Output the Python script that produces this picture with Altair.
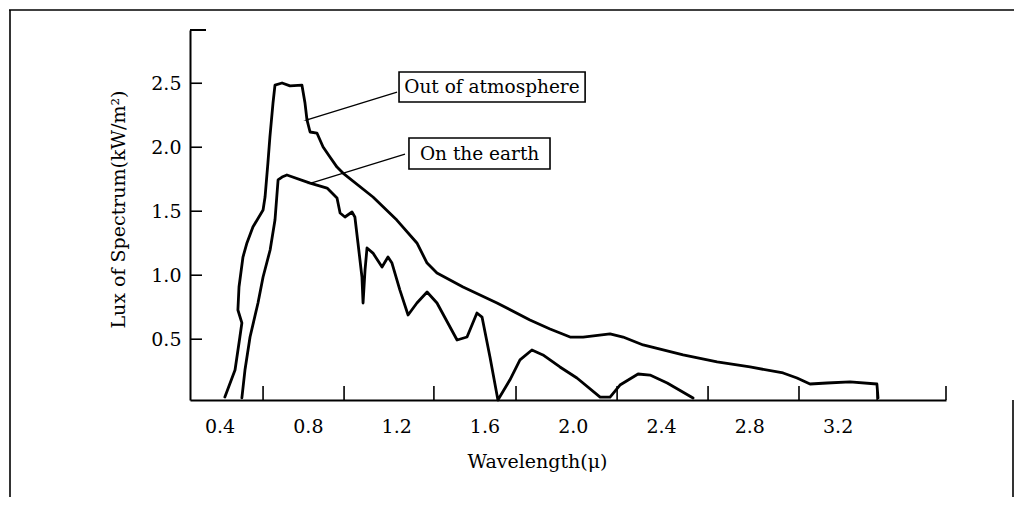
import altair as alt
import pandas as pd

FONT = "DejaVu Serif"

# ---- data (wavelength in micron, flux in kW/m^2) ----
out_w = [0.424, 0.470, 0.492, 0.501, 0.483, 0.488, 0.506, 0.524, 0.551, 0.597,
         0.606, 0.619, 0.628, 0.642, 0.651, 0.683, 0.719, 0.773, 0.787, 0.796,
         0.810, 0.841, 0.869, 0.900, 0.932, 0.959, 1.095, 1.203, 1.294, 1.340,
         1.385, 1.503, 1.657, 1.806, 1.897, 1.988, 2.047, 2.169, 2.228, 2.319,
         2.500, 2.654, 2.803, 2.953, 3.016, 3.075, 3.152, 3.256, 3.378, 3.383]
out_v = [0.048, 0.259, 0.517, 0.627, 0.728, 0.908, 1.142, 1.252, 1.377, 1.509,
         1.611, 1.877, 2.080, 2.345, 2.486, 2.502, 2.479, 2.486, 2.345, 2.213,
         2.119, 2.111, 2.002, 1.923, 1.845, 1.798, 1.611, 1.431, 1.252, 1.095,
         1.017, 0.908, 0.783, 0.650, 0.580, 0.517, 0.517, 0.541, 0.517, 0.455,
         0.377, 0.322, 0.283, 0.236, 0.197, 0.150, 0.158, 0.166, 0.150, 0.041]

earth_w = [0.501, 0.515, 0.538, 0.574, 0.597, 0.629, 0.651, 0.665, 0.683, 0.705,
           0.810, 0.887, 0.932, 0.946, 0.968, 1.000, 1.013, 1.027, 1.045, 1.050,
           1.059, 1.068, 1.095, 1.136, 1.163, 1.181, 1.217, 1.254, 1.294, 1.340,
           1.385, 1.476, 1.521, 1.566, 1.589, 1.625, 1.661, 1.715, 1.761, 1.815,
           1.865, 1.942, 2.019, 2.124, 2.169, 2.214, 2.296, 2.350, 2.428, 2.545]
earth_v = [0.041, 0.259, 0.517, 0.783, 0.986, 1.197, 1.431, 1.744, 1.767, 1.783,
           1.720, 1.681, 1.603, 1.486, 1.455, 1.494, 1.455, 1.252, 0.986, 0.783,
           1.041, 1.213, 1.173, 1.064, 1.142, 1.095, 0.884, 0.689, 0.783, 0.869,
           0.783, 0.494, 0.517, 0.705, 0.673, 0.361, 0.025, 0.181, 0.338, 0.416,
           0.377, 0.283, 0.197, 0.048, 0.048, 0.142, 0.228, 0.220, 0.158, 0.041]

x_labels = [0.4, 0.8, 1.2, 1.6, 2.0, 2.4, 2.8, 3.2]
x_ticks = [0.597, 0.964, 1.371, 1.743, 2.201, 2.613, 3.025, 3.379, 3.691]
y_labels = [0.5, 1.0, 1.5, 2.0, 2.5]
x_domain = [0.266, 3.691]
y_domain = [0.025, 2.916]

ann_text = ["Out of atmosphere", "On the earth"]
ann_box_w1 = [1.213, 1.258]
ann_box_w2 = [2.056, 1.897]
ann_box_v1 = [2.353, 1.830]
ann_box_v2 = [2.588, 2.072]
ann_text_w = [1.634, 1.578]
ann_text_v = [2.470, 1.951]
lead_w1 = [1.204, 1.240]
lead_v1 = [2.431, 1.947]
lead_w2 = [0.796, 0.814]
lead_v2 = [2.213, 1.720]

W, H = 756, 370

xs = alt.Scale(domain=x_domain, nice=False, zero=False)
ys = alt.Scale(domain=y_domain, nice=False, zero=False)

rows = []
for i, (w, v) in enumerate(zip(out_w, out_v)):
    rows.append({"series": "Out of atmosphere", "w": w, "v": v, "i": i})
for i, (w, v) in enumerate(zip(earth_w, earth_v)):
    rows.append({"series": "On the earth", "w": w, "v": v, "i": i})
curves = pd.DataFrame(rows)

x_axis = alt.Axis(values=x_labels, format=".1f", ticks=False, tickSize=0, grid=False,
                  labelFont=FONT, labelFontSize=19, labelColor="black", labelPadding=17,
                  labelFlush=False, labelOverlap=False,
                  domainColor="black", domainWidth=2,
                  title="Wavelength(μ)", titleFont=FONT, titleFontSize=19,
                  titleFontWeight="normal", titleColor="black",
                  titleX=347, titleY=52, titleBaseline="top", titleAlign="center")
y_axis = alt.Axis(values=y_labels, format=".1f", ticks=False, tickSize=0, grid=False,
                  labelFont=FONT, labelFontSize=19, labelColor="black", labelPadding=9,
                  labelOverlap=False,
                  domainColor="black", domainWidth=2,
                  title="Lux of Spectrum(kW/m²)", titleFont=FONT, titleFontSize=19,
                  titleFontWeight="normal", titleColor="black",
                  titleX=-66, titleY=179, titleAngle=270, titleBaseline="alphabetic",
                  titleAlign="center")

lines = alt.Chart(curves).mark_line(color="black", strokeWidth=2.8,
                                    strokeJoin="round", strokeCap="round").encode(
    x=alt.X("w:Q", scale=xs, axis=x_axis),
    y=alt.Y("v:Q", scale=ys, axis=y_axis),
    detail="series:N",
    order="i:Q",
)

xt = alt.Chart(pd.DataFrame({"w": x_ticks})).mark_rule(color="black", strokeWidth=1.6).encode(
    x=alt.X("w:Q", scale=xs),
    y=alt.value(H),
    y2=alt.value(H - 14),
)

yt = alt.Chart(pd.DataFrame({"v": y_labels})).mark_rule(color="black", strokeWidth=1.6).encode(
    y=alt.Y("v:Q", scale=ys),
    x=alt.value(0),
    x2=alt.value(12),
)

ytop = alt.Chart(pd.DataFrame({"v": [y_domain[1]]})).mark_rule(color="black", strokeWidth=2).encode(
    y=alt.Y("v:Q", scale=ys),
    x=alt.value(0),
    x2=alt.value(16),
)

ann = pd.DataFrame({
    "text": ann_text,
    "w": ann_box_w1, "w2": ann_box_w2, "v": ann_box_v1, "v2": ann_box_v2,
    "tw": ann_text_w, "tv": ann_text_v,
    "lw1": lead_w1, "lv1": lead_v1, "lw2": lead_w2, "lv2": lead_v2,
})

leaders = alt.Chart(ann).mark_rule(color="black", strokeWidth=1.3).encode(
    x=alt.X("lw1:Q", scale=xs), x2="lw2:Q",
    y=alt.Y("lv1:Q", scale=ys), y2="lv2:Q",
)

heads = alt.Chart(ann).mark_point(shape="wedge", filled=True, color="black",
                                  size=45, angle=253, opacity=1).encode(
    x=alt.X("lw2:Q", scale=xs),
    y=alt.Y("lv2:Q", scale=ys),
)

boxes = alt.Chart(ann).mark_rect(fill="white", stroke="black", strokeWidth=1.6).encode(
    x=alt.X("w:Q", scale=xs), x2="w2:Q",
    y=alt.Y("v:Q", scale=ys), y2="v2:Q",
)

labels = alt.Chart(ann).mark_text(font=FONT, fontSize=18.5, color="black",
                                  align="center", baseline="middle").encode(
    x=alt.X("tw:Q", scale=xs),
    y=alt.Y("tv:Q", scale=ys),
    text="text:N",
)

one = pd.DataFrame({"d": [0]})
frame_top = alt.Chart(one).mark_rule(color="black", strokeWidth=1.6).encode(
    x=alt.value(-181), x2=alt.value(824), y=alt.value(-20))
frame_left = alt.Chart(one).mark_rule(color="black", strokeWidth=1.6).encode(
    x=alt.value(-180), y=alt.value(-20), y2=alt.value(467))
frame_right = alt.Chart(one).mark_rule(color="black", strokeWidth=1.6).encode(
    x=alt.value(823), y=alt.value(370), y2=alt.value(467))

chart = alt.layer(
    lines, xt, yt, ytop, leaders, heads, boxes, labels,
    frame_top, frame_left, frame_right,
).properties(
    width=W, height=H,
    autosize=alt.AutoSizeParams(type="none"),
    padding={"left": 182, "top": 22, "right": 69, "bottom": 97},
    background="white",
).configure_view(stroke=None)

chart.save("out.html", embed_options={"renderer": "svg", "actions": False})
